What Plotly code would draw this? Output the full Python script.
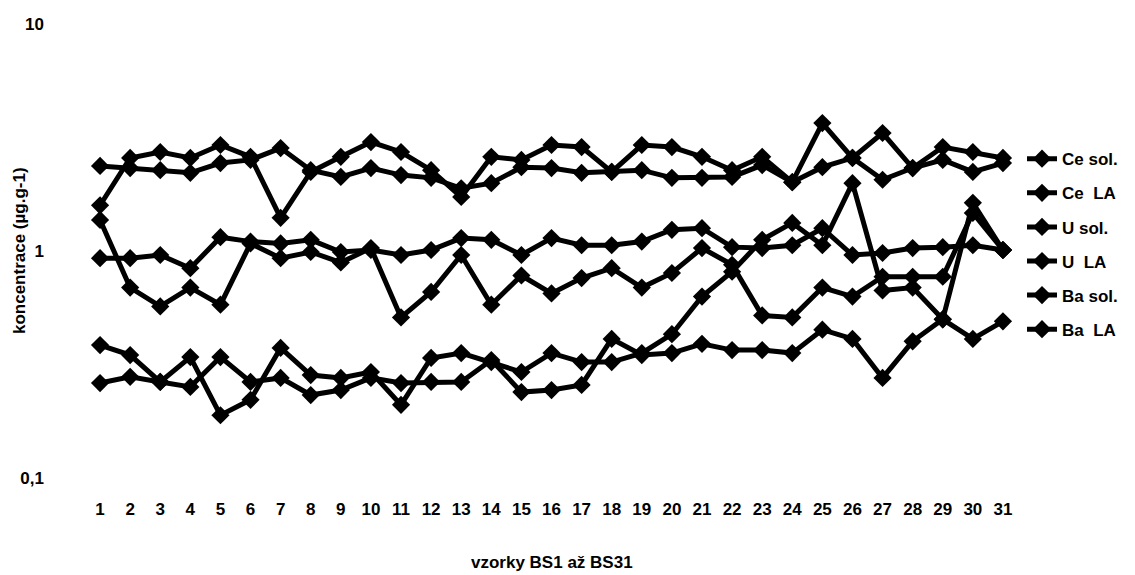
import plotly.graph_objects as go

# sample numbers BS1..BS31
samples = list(range(1, 32))

# concentrations in ug/g
ce_sol = [1.59, 2.57, 2.73, 2.57, 2.93, 2.60, 1.40, 2.23, 2.60, 3.02, 2.73, 2.27, 1.73, 2.60, 2.52, 2.93,
          2.87, 2.23, 2.93, 2.87, 2.60, 2.27, 2.60, 2.01, 3.66, 2.57, 3.31, 2.32, 2.87, 2.73, 2.57]
ce_la = [2.37, 2.32, 2.27, 2.21, 2.44, 2.52, 2.84, 2.27, 2.12, 2.32, 2.16, 2.10, 1.89, 1.99, 2.34, 2.32,
         2.21, 2.23, 2.27, 2.10, 2.10, 2.12, 2.39, 2.01, 2.34, 2.57, 2.06, 2.32, 2.52, 2.23, 2.44]
u_sol = [0.93, 0.93, 0.96, 0.84, 1.15, 1.10, 1.08, 1.12, 0.99, 1.01, 0.96, 1.01, 1.14, 1.12, 0.96, 1.14,
         1.06, 1.06, 1.10, 1.24, 1.26, 1.04, 1.03, 1.06, 1.26, 0.96, 0.98, 1.03, 1.04, 1.06, 1.01]
u_la = [1.37, 0.69, 0.57, 0.69, 0.58, 1.08, 0.93, 0.99, 0.89, 1.03, 0.51, 0.66, 0.96, 0.58, 0.78, 0.65,
        0.76, 0.84, 0.69, 0.80, 1.03, 0.87, 0.52, 0.51, 0.69, 0.63, 0.77, 0.77, 0.77, 1.47, 1.01]
ba_sol = [0.385, 0.348, 0.265, 0.341, 0.189, 0.221, 0.374, 0.284, 0.276, 0.293, 0.210, 0.338, 0.355, 0.324,
          0.293, 0.355, 0.324, 0.324, 0.355, 0.43, 0.63, 0.81, 1.12, 1.33, 1.06, 1.99, 0.67, 0.69, 0.50,
          1.63, 1.01]
ba_la = [0.262, 0.279, 0.265, 0.252, 0.341, 0.265, 0.276, 0.232, 0.244, 0.276, 0.262, 0.265, 0.265, 0.331,
         0.239, 0.244, 0.257, 0.41, 0.348, 0.355, 0.39, 0.366, 0.366, 0.355, 0.45, 0.41, 0.276, 0.40, 0.50,
         0.41, 0.49]

series_names = ["Ce sol.", "Ce  LA", "U sol.", "U  LA", "Ba sol.", "Ba  LA"]
series_values = [ce_sol, ce_la, u_sol, u_la, ba_sol, ba_la]

y_tick_vals = [0.1, 1, 10]
y_tick_text = ["0,1", "1", "10"]

FONT = "Liberation Sans, Arial, sans-serif"
TXT = 17

fig = go.Figure()
for i, (name, vals) in enumerate(zip(series_names, series_values)):
    fig.add_trace(go.Scatter(
        x=samples, y=vals, name=name, mode="lines+markers",
        legendgroup=f"g{i}",
        line=dict(color="black", width=5),
        marker=dict(symbol="diamond", size=14, color="black"),
    ))

fig.update_layout(
    width=1135, height=575,
    margin=dict(l=85, r=117, t=24, b=97),
    paper_bgcolor="white", plot_bgcolor="white",
    font=dict(family=FONT, size=TXT, color="black", weight="bold"),
    showlegend=True,
    legend=dict(
        x=1.0043, xanchor="left", xref="paper",
        y=0.742, yanchor="top",
        bgcolor="rgba(0,0,0,0)", borderwidth=0,
        font=dict(family=FONT, size=TXT, color="black", weight="bold"),
        tracegroupgap=9,
        itemwidth=30,
    ),
    xaxis=dict(
        range=[0.5, 31.5], tickmode="array", tickvals=samples,
        ticktext=[str(s) for s in samples],
        showgrid=False, zeroline=False, showline=False, ticks="",
        ticklabelstandoff=19,
        tickfont=dict(family=FONT, size=TXT, color="black", weight="bold"),
    ),
    yaxis=dict(
        type="log", range=[-1, 1], tickmode="array",
        tickvals=y_tick_vals, ticktext=y_tick_text,
        showgrid=False, zeroline=False, showline=False, ticks="",
        ticklabelstandoff=40,
        tickfont=dict(family=FONT, size=TXT, color="black", weight="bold"),
    ),
    annotations=[
        dict(text="koncentrace (µg.g-1)", xref="paper", yref="paper",
             x=-0.0707, y=0.5, xanchor="center", yanchor="middle",
             textangle=-90, showarrow=False,
             font=dict(family=FONT, size=TXT, color="black", weight="bold")),
        dict(text="vzorky BS1 až BS31", xref="paper", yref="paper",
             x=0.5, y=-0.187, xanchor="center", yanchor="middle",
             showarrow=False,
             font=dict(family=FONT, size=TXT, color="black", weight="bold")),
    ],
)

fig.write_html("out.html")
